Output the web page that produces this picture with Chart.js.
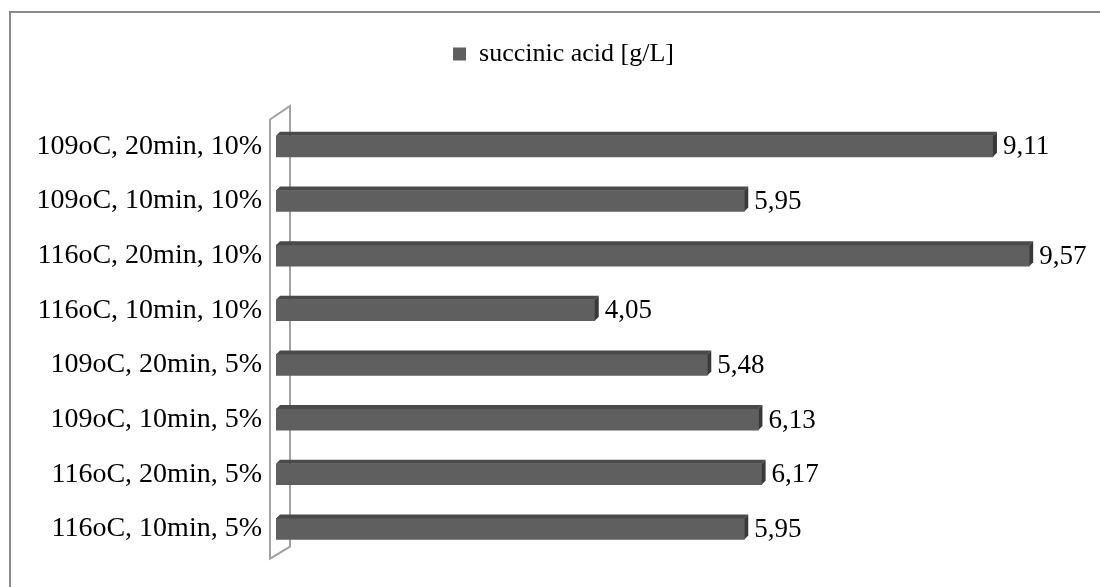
<!DOCTYPE html>
<html>
<head>
<meta charset="utf-8">
<script src="https://cdn.jsdelivr.net/npm/chart.js@4.4.1/dist/chart.umd.min.js"></script>
<style>
  html, body { margin: 0; padding: 0; background: #fff; }
  #wrap { width: 1100px; height: 587px; position: relative; }
</style>
</head>
<body>
<div id="wrap"><canvas id="c" width="1100" height="587"></canvas></div>
<script>
// Treatment conditions (temperature, time, concentration), top to bottom
const categories = [
  '109oC, 20min, 10%',
  '109oC, 10min, 10%',
  '116oC, 20min, 10%',
  '116oC, 10min, 10%',
  '109oC, 20min, 5%',
  '109oC, 10min, 5%',
  '116oC, 20min, 5%',
  '116oC, 10min, 5%'
];
const seriesName = 'succinic acid [g/L]';
const succinicAcid = [9.11, 5.95, 9.57, 4.05, 5.48, 6.13, 6.17, 5.95];
const axisMin = 0;
const axisMax = 10;

const SERIF = "'Liberation Serif', 'Times New Roman', serif";
const DEPTH = 4;

// Outer frame of the chart
const framePlugin = {
  id: 'frame',
  beforeDraw(chart) {
    const ctx = chart.ctx;
    ctx.save();
    ctx.fillStyle = '#fff';
    ctx.fillRect(0, 0, chart.width, chart.height);
    ctx.strokeStyle = '#8a8a8a';
    ctx.lineWidth = 2;
    ctx.strokeRect(10, 12, chart.width + 20, chart.height + 20);
    ctx.restore();
  }
};

// Nudge the legend a little to the right of the plot centre
const legendShiftPlugin = {
  id: 'legendShift',
  afterLayout(chart) {
    if (chart.legend) {
      chart.legend.left += 32;
      chart.legend.right += 32;
    }
  }
};

// Thin 3D side wall at the category axis
const wallPlugin = {
  id: 'wall',
  beforeDatasetsDraw(chart) {
    const { ctx, chartArea: a } = chart;
    const fx = a.left - 6, bx = a.left + 14;
    ctx.save();
    ctx.beginPath();
    ctx.moveTo(fx, a.top + 0.5);
    ctx.lineTo(bx, a.top - 13);
    ctx.lineTo(bx, a.bottom - 9.5);
    ctx.lineTo(fx, a.bottom + 2.5);
    ctx.closePath();
    ctx.fillStyle = '#ffffff';
    ctx.fill();
    ctx.strokeStyle = '#a3a3a3';
    ctx.lineWidth = 2;
    ctx.stroke();
    ctx.restore();
  }
};

// Top and end faces of each bar, plus the value labels
const barFacesPlugin = {
  id: 'barFaces',
  afterDatasetsDraw(chart) {
    const ctx = chart.ctx;
    const meta = chart.getDatasetMeta(0);
    ctx.save();
    meta.data.forEach((bar, i) => {
      const p = bar.getProps(['x', 'y', 'base', 'height'], true);
      const x0 = p.base, x1 = p.x;
      const y0 = p.y - p.height / 2, y1 = p.y + p.height / 2;
      // top face
      ctx.beginPath();
      ctx.moveTo(x0, y0);
      ctx.lineTo(x0 + DEPTH, y0 - DEPTH);
      ctx.lineTo(x1 + DEPTH, y0 - DEPTH);
      ctx.lineTo(x1, y0);
      ctx.closePath();
      ctx.fillStyle = '#4a4a4a';
      ctx.fill();
      // end face
      ctx.beginPath();
      ctx.moveTo(x1, y0);
      ctx.lineTo(x1 + DEPTH, y0 - DEPTH);
      ctx.lineTo(x1 + DEPTH, y1 - DEPTH);
      ctx.lineTo(x1, y1);
      ctx.closePath();
      ctx.fillStyle = '#383838';
      ctx.fill();
      // value label
      ctx.fillStyle = '#000';
      ctx.font = '27px ' + SERIF;
      ctx.textAlign = 'left';
      ctx.textBaseline = 'middle';
      const txt = succinicAcid[i].toFixed(2).replace('.', ',');
      ctx.fillText(txt, x1 + DEPTH + 6, p.y + 1);
    });
    ctx.restore();
  }
};

new Chart(document.getElementById('c'), {
  type: 'bar',
  data: {
    labels: categories,
    datasets: [{
      label: seriesName,
      data: succinicAcid,
      backgroundColor: '#5f5f5f',
      borderWidth: 0,
      barThickness: 21
    }]
  },
  options: {
    indexAxis: 'y',
    responsive: false,
    animation: false,
    devicePixelRatio: 1,
    layout: { padding: { top: 31, bottom: 26, left: 0, right: 37 } },
    scales: {
      x: {
        position: 'top',
        min: axisMin,
        max: axisMax,
        display: true,
        ticks: { display: false },
        grid: { display: false },
        border: { display: false },
        afterFit(s) { s.height = 42; }
      },
      y: {
        ticks: {
          color: '#000',
          font: { family: SERIF, size: 28 },
          padding: 14
        },
        grid: { display: false, drawTicks: false },
        border: { display: false },
        afterFit(s) { s.width = 276; }
      }
    },
    plugins: {
      legend: {
        position: 'top',
        labels: {
          color: '#000',
          font: { family: SERIF, size: 26 },
          boxWidth: 13,
          boxHeight: 13,
          padding: 10
        }
      },
      tooltip: { enabled: false }
    }
  },
  plugins: [framePlugin, legendShiftPlugin, wallPlugin, barFacesPlugin]
});
</script>
</body>
</html>
